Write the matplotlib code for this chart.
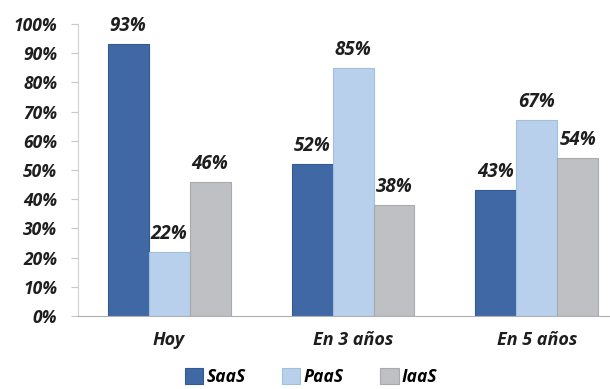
import matplotlib.pyplot as plt
import numpy as np

# datos
categorias = ["Hoy", "En 3 años", "En 5 años"]
series = ["SaaS", "PaaS", "IaaS"]
saas = [93, 52, 43]
paas = [22, 85, 67]
iaas = [46, 38, 54]
ticks_y = [0, 10, 20, 30, 40, 50, 60, 70, 80, 90, 100]

colores = ["#3f68a4", "#b8d0ec", "#bfc0c3"]
bordes = ["#335a93", "#a3bfe0", "#a9aaad"]

plt.rcParams['font.family'] = ['Open Sans', 'DejaVu Sans']

fig = plt.figure(figsize=(6.1, 3.89), dpi=100)
ax = fig.add_axes([78/610, 73/389, 1 - 78/610, (316 - 24)/389])

x = np.arange(len(categorias))
ancho = 41/184
for i, (nombre, vals) in enumerate(zip(series, [saas, paas, iaas])):
    pos = x + (i - 1)*ancho
    barras = ax.bar(pos, vals, ancho, color=colores[i], edgecolor=bordes[i],
                    linewidth=0.8, label=nombre)
    for p, v in zip(pos, vals):
        ax.text(p, v + 2.8, str(v) + "%", ha='center', va='bottom',
                fontsize=13.5, fontweight='bold', fontstyle='italic', color='#1e1e1e')

ax.set_xlim(-0.495, 2.397)
ax.set_ylim(0, 100)
ax.set_yticks(ticks_y)
ax.set_yticklabels([str(t) + "%" for t in ticks_y], fontsize=12.5,
                   fontweight='bold', fontstyle='italic', color='#1e1e1e')
ax.set_xticks(x)
ax.set_xticklabels(categorias, fontsize=13, fontweight='bold',
                   fontstyle='italic', color='#1e1e1e')
ax.tick_params(axis='x', length=0, pad=11)
ax.tick_params(axis='y', length=5, color='#c8c8c8', pad=10)

for lado in ['top', 'right']:
    ax.spines[lado].set_visible(False)
ax.spines['left'].set_color('#d0d0d0')
ax.spines['bottom'].set_color('#b0b0b0')

fig.legend(loc='center', bbox_to_anchor=(0.51, 0.03), ncol=3, frameon=False,
           prop={'size': 12.5, 'weight': 'bold', 'style': 'italic'},
           handlelength=1.05, handleheight=1.05, handletextpad=0.2,
           columnspacing=2.1, borderpad=0.1)

fig.savefig("out.png", dpi=100)
